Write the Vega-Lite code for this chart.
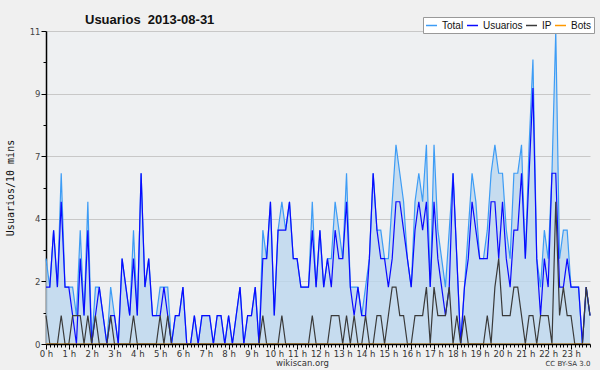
{
  "$schema": "https://vega.github.io/schema/vega-lite/v6.json",
  "width": 544,
  "height": 313,
  "autosize": {"type": "none"},
  "padding": {"left": 46, "top": 31, "right": 10, "bottom": 26},
  "background": "#f0f0f0",
  "title": {"text": "Usuarios \u00a02013-08-31", "anchor": "start", "frame": "group", "dx": 39, "dy": 21, "offset": 11, "font": "Liberation Sans", "fontSize": 13, "fontWeight": "bold", "color": "#111111"},
  "config": {"view": {"fill": "#eef0f2", "stroke": null}},
  "data": {"values": [
    {"m":0,"Total":3,"Usuarios":2,"IP":1,"Bots":0},
    {"m":10,"Total":2,"Usuarios":2,"IP":0,"Bots":0},
    {"m":20,"Total":4,"Usuarios":4,"IP":0,"Bots":0},
    {"m":30,"Total":2,"Usuarios":2,"IP":0,"Bots":0},
    {"m":40,"Total":6,"Usuarios":5,"IP":1,"Bots":0},
    {"m":50,"Total":2,"Usuarios":2,"IP":0,"Bots":0},
    {"m":60,"Total":2,"Usuarios":2,"IP":0,"Bots":0},
    {"m":70,"Total":2,"Usuarios":1,"IP":1,"Bots":0},
    {"m":80,"Total":1,"Usuarios":0,"IP":1,"Bots":0},
    {"m":90,"Total":4,"Usuarios":3,"IP":1,"Bots":0},
    {"m":100,"Total":1,"Usuarios":1,"IP":0,"Bots":0},
    {"m":110,"Total":5,"Usuarios":4,"IP":1,"Bots":0},
    {"m":120,"Total":0,"Usuarios":0,"IP":0,"Bots":0},
    {"m":130,"Total":2,"Usuarios":1,"IP":1,"Bots":0},
    {"m":140,"Total":2,"Usuarios":2,"IP":0,"Bots":0},
    {"m":150,"Total":1,"Usuarios":1,"IP":0,"Bots":0},
    {"m":160,"Total":0,"Usuarios":0,"IP":0,"Bots":0},
    {"m":170,"Total":2,"Usuarios":1,"IP":1,"Bots":0},
    {"m":180,"Total":1,"Usuarios":1,"IP":0,"Bots":0},
    {"m":190,"Total":0,"Usuarios":0,"IP":0,"Bots":0},
    {"m":200,"Total":3,"Usuarios":3,"IP":0,"Bots":0},
    {"m":210,"Total":2,"Usuarios":2,"IP":0,"Bots":0},
    {"m":220,"Total":1,"Usuarios":1,"IP":0,"Bots":0},
    {"m":230,"Total":4,"Usuarios":3,"IP":1,"Bots":0},
    {"m":240,"Total":1,"Usuarios":1,"IP":0,"Bots":0},
    {"m":250,"Total":6,"Usuarios":6,"IP":0,"Bots":0},
    {"m":260,"Total":2,"Usuarios":2,"IP":0,"Bots":0},
    {"m":270,"Total":3,"Usuarios":3,"IP":0,"Bots":0},
    {"m":280,"Total":1,"Usuarios":1,"IP":0,"Bots":0},
    {"m":290,"Total":1,"Usuarios":1,"IP":0,"Bots":0},
    {"m":300,"Total":2,"Usuarios":1,"IP":1,"Bots":0},
    {"m":310,"Total":2,"Usuarios":2,"IP":0,"Bots":0},
    {"m":320,"Total":2,"Usuarios":1,"IP":1,"Bots":0},
    {"m":330,"Total":0,"Usuarios":0,"IP":0,"Bots":0},
    {"m":340,"Total":1,"Usuarios":1,"IP":0,"Bots":0},
    {"m":350,"Total":1,"Usuarios":1,"IP":0,"Bots":0},
    {"m":360,"Total":2,"Usuarios":2,"IP":0,"Bots":0},
    {"m":370,"Total":0,"Usuarios":0,"IP":0,"Bots":0},
    {"m":380,"Total":0,"Usuarios":0,"IP":0,"Bots":0},
    {"m":390,"Total":1,"Usuarios":1,"IP":0,"Bots":0},
    {"m":400,"Total":0,"Usuarios":0,"IP":0,"Bots":0},
    {"m":410,"Total":1,"Usuarios":1,"IP":0,"Bots":0},
    {"m":420,"Total":1,"Usuarios":1,"IP":0,"Bots":0},
    {"m":430,"Total":1,"Usuarios":1,"IP":0,"Bots":0},
    {"m":440,"Total":0,"Usuarios":0,"IP":0,"Bots":0},
    {"m":450,"Total":1,"Usuarios":1,"IP":0,"Bots":0},
    {"m":460,"Total":1,"Usuarios":1,"IP":0,"Bots":0},
    {"m":470,"Total":0,"Usuarios":0,"IP":0,"Bots":0},
    {"m":480,"Total":1,"Usuarios":1,"IP":0,"Bots":0},
    {"m":490,"Total":0,"Usuarios":0,"IP":0,"Bots":0},
    {"m":500,"Total":1,"Usuarios":1,"IP":0,"Bots":0},
    {"m":510,"Total":2,"Usuarios":2,"IP":0,"Bots":0},
    {"m":520,"Total":0,"Usuarios":0,"IP":0,"Bots":0},
    {"m":530,"Total":1,"Usuarios":1,"IP":0,"Bots":0},
    {"m":540,"Total":1,"Usuarios":1,"IP":0,"Bots":0},
    {"m":550,"Total":2,"Usuarios":2,"IP":0,"Bots":0},
    {"m":560,"Total":0,"Usuarios":0,"IP":0,"Bots":0},
    {"m":570,"Total":4,"Usuarios":3,"IP":1,"Bots":0},
    {"m":580,"Total":3,"Usuarios":3,"IP":0,"Bots":0},
    {"m":590,"Total":5,"Usuarios":5,"IP":0,"Bots":0},
    {"m":600,"Total":1,"Usuarios":1,"IP":0,"Bots":0},
    {"m":610,"Total":4,"Usuarios":4,"IP":0,"Bots":0},
    {"m":620,"Total":5,"Usuarios":4,"IP":1,"Bots":0},
    {"m":630,"Total":4,"Usuarios":4,"IP":0,"Bots":0},
    {"m":640,"Total":5,"Usuarios":5,"IP":0,"Bots":0},
    {"m":650,"Total":3,"Usuarios":3,"IP":0,"Bots":0},
    {"m":660,"Total":3,"Usuarios":3,"IP":0,"Bots":0},
    {"m":670,"Total":2,"Usuarios":2,"IP":0,"Bots":0},
    {"m":680,"Total":2,"Usuarios":2,"IP":0,"Bots":0},
    {"m":690,"Total":2,"Usuarios":2,"IP":0,"Bots":0},
    {"m":700,"Total":5,"Usuarios":4,"IP":1,"Bots":0},
    {"m":710,"Total":2,"Usuarios":2,"IP":0,"Bots":0},
    {"m":720,"Total":4,"Usuarios":4,"IP":0,"Bots":0},
    {"m":730,"Total":2,"Usuarios":2,"IP":0,"Bots":0},
    {"m":740,"Total":3,"Usuarios":3,"IP":0,"Bots":0},
    {"m":750,"Total":3,"Usuarios":2,"IP":1,"Bots":0},
    {"m":760,"Total":5,"Usuarios":4,"IP":1,"Bots":0},
    {"m":770,"Total":4,"Usuarios":3,"IP":1,"Bots":0},
    {"m":780,"Total":3,"Usuarios":3,"IP":0,"Bots":0},
    {"m":790,"Total":6,"Usuarios":5,"IP":1,"Bots":0},
    {"m":800,"Total":2,"Usuarios":2,"IP":0,"Bots":0},
    {"m":810,"Total":2,"Usuarios":1,"IP":1,"Bots":0},
    {"m":820,"Total":2,"Usuarios":2,"IP":0,"Bots":0},
    {"m":830,"Total":1,"Usuarios":1,"IP":0,"Bots":0},
    {"m":840,"Total":2,"Usuarios":1,"IP":1,"Bots":0},
    {"m":850,"Total":3,"Usuarios":3,"IP":0,"Bots":0},
    {"m":860,"Total":6,"Usuarios":6,"IP":0,"Bots":0},
    {"m":870,"Total":4,"Usuarios":4,"IP":1,"Bots":0},
    {"m":880,"Total":4,"Usuarios":3,"IP":1,"Bots":0},
    {"m":890,"Total":3,"Usuarios":3,"IP":0,"Bots":0},
    {"m":900,"Total":3,"Usuarios":2,"IP":1,"Bots":0},
    {"m":910,"Total":5,"Usuarios":3,"IP":2,"Bots":0},
    {"m":920,"Total":7,"Usuarios":5,"IP":2,"Bots":0},
    {"m":930,"Total":6,"Usuarios":5,"IP":1,"Bots":0},
    {"m":940,"Total":5,"Usuarios":4,"IP":1,"Bots":0},
    {"m":950,"Total":3,"Usuarios":3,"IP":0,"Bots":0},
    {"m":960,"Total":2,"Usuarios":2,"IP":0,"Bots":0},
    {"m":970,"Total":5,"Usuarios":4,"IP":1,"Bots":0},
    {"m":980,"Total":6,"Usuarios":5,"IP":1,"Bots":0},
    {"m":990,"Total":5,"Usuarios":4,"IP":1,"Bots":0},
    {"m":1000,"Total":7,"Usuarios":5,"IP":2,"Bots":0},
    {"m":1010,"Total":2,"Usuarios":2,"IP":0,"Bots":0},
    {"m":1020,"Total":7,"Usuarios":5,"IP":2,"Bots":0},
    {"m":1030,"Total":4,"Usuarios":3,"IP":1,"Bots":0},
    {"m":1040,"Total":3,"Usuarios":2,"IP":1,"Bots":0},
    {"m":1050,"Total":2,"Usuarios":1,"IP":1,"Bots":0},
    {"m":1060,"Total":4,"Usuarios":2,"IP":2,"Bots":0},
    {"m":1070,"Total":6,"Usuarios":6,"IP":0,"Bots":0},
    {"m":1080,"Total":3,"Usuarios":3,"IP":1,"Bots":0},
    {"m":1090,"Total":0,"Usuarios":0,"IP":0,"Bots":0},
    {"m":1100,"Total":2,"Usuarios":2,"IP":1,"Bots":0},
    {"m":1110,"Total":4,"Usuarios":3,"IP":0,"Bots":0},
    {"m":1120,"Total":6,"Usuarios":5,"IP":0,"Bots":0},
    {"m":1130,"Total":5,"Usuarios":4,"IP":0,"Bots":0},
    {"m":1140,"Total":3,"Usuarios":3,"IP":0,"Bots":0},
    {"m":1150,"Total":3,"Usuarios":3,"IP":0,"Bots":0},
    {"m":1160,"Total":4,"Usuarios":3,"IP":1,"Bots":0},
    {"m":1170,"Total":6,"Usuarios":5,"IP":0,"Bots":0},
    {"m":1180,"Total":7,"Usuarios":5,"IP":2,"Bots":0},
    {"m":1190,"Total":6,"Usuarios":3,"IP":3,"Bots":0},
    {"m":1200,"Total":6,"Usuarios":5,"IP":1,"Bots":0},
    {"m":1210,"Total":4,"Usuarios":3,"IP":1,"Bots":0},
    {"m":1220,"Total":3,"Usuarios":2,"IP":1,"Bots":0},
    {"m":1230,"Total":6,"Usuarios":4,"IP":2,"Bots":0},
    {"m":1240,"Total":6,"Usuarios":4,"IP":2,"Bots":0},
    {"m":1250,"Total":7,"Usuarios":6,"IP":1,"Bots":0},
    {"m":1260,"Total":3,"Usuarios":3,"IP":0,"Bots":0},
    {"m":1270,"Total":7,"Usuarios":6,"IP":1,"Bots":0},
    {"m":1280,"Total":10,"Usuarios":9,"IP":1,"Bots":0},
    {"m":1290,"Total":3,"Usuarios":3,"IP":0,"Bots":0},
    {"m":1300,"Total":2,"Usuarios":1,"IP":1,"Bots":0},
    {"m":1310,"Total":4,"Usuarios":3,"IP":1,"Bots":0},
    {"m":1320,"Total":3,"Usuarios":2,"IP":1,"Bots":0},
    {"m":1330,"Total":6,"Usuarios":6,"IP":0,"Bots":0},
    {"m":1340,"Total":11,"Usuarios":6,"IP":5,"Bots":0},
    {"m":1350,"Total":3,"Usuarios":2,"IP":1,"Bots":0},
    {"m":1360,"Total":4,"Usuarios":2,"IP":2,"Bots":0},
    {"m":1370,"Total":4,"Usuarios":3,"IP":1,"Bots":0},
    {"m":1380,"Total":2,"Usuarios":2,"IP":1,"Bots":0},
    {"m":1390,"Total":2,"Usuarios":2,"IP":0,"Bots":0},
    {"m":1400,"Total":2,"Usuarios":2,"IP":0,"Bots":0},
    {"m":1410,"Total":0,"Usuarios":0,"IP":0,"Bots":0},
    {"m":1420,"Total":2,"Usuarios":2,"IP":2,"Bots":0},
    {"m":1430,"Total":1,"Usuarios":1,"IP":1,"Bots":0}
  ]},
  "layer": [
    {
      "mark": {"type": "area", "color": "#bcd7ee", "opacity": 0.8},
      "encoding": {
        "x": {"field": "m", "type": "quantitative", "scale": {"domain": [0, 1430], "nice": false, "zero": false},
          "axis": {"orient": "bottom", "values": [0,60,120,180,240,300,360,420,480,540,600,660,720,780,840,900,960,1020,1080,1140,1200,1260,1320,1380],
            "labelExpr": "datum.value/60 + ' h'", "grid": false, "tickSize": 5, "tickColor": "#000000", "domainColor": "#000000", "domainWidth": 1.5,
            "labelFont": "DejaVu Sans", "labelFontSize": 8.5, "labelColor": "#333333", "labelPadding": 0, "labelFlush": false, "labelOverlap": false,
            "title": "wikiscan.org", "titleX": 256, "titleY": 21, "titleBaseline": "alphabetic", "titleFont": "DejaVu Sans", "titleFontSize": 8.5, "titleFontWeight": "normal", "titleColor": "#333333", "zindex": 1}},
        "y": {"field": "Total", "type": "quantitative", "scale": {"domain": [0, 11], "nice": false},
          "axis": {"orient": "left", "values": [0, 2.2, 4.4, 6.6, 8.8, 11], "format": ".0f", "grid": true, "gridColor": "#c8c8c8", "tickSize": 5, "tickColor": "#000000",
            "domainColor": "#000000", "domainWidth": 1.5, "labelFont": "DejaVu Sans", "labelFontSize": 8.5, "labelColor": "#444444", "labelPadding": 1,
            "title": "Usuarios/10 mins", "titleFont": "DejaVu Sans Mono", "titleFontSize": 10, "titleFontWeight": "normal", "titleColor": "#111111", "titlePadding": 14}}
      }
    },
    {
      "transform": [{"fold": ["Total", "Usuarios", "IP", "Bots"], "as": ["serie", "valor"]}],
      "mark": {"type": "line", "strokeWidth": 1.2},
      "encoding": {
        "x": {"field": "m", "type": "quantitative",
          "axis": {"orient": "bottom", "tickCount": 143, "labels": false, "grid": false, "domain": false, "tickSize": 3, "tickColor": "#000000",
            "title": "CC BY-SA 3.0", "titleX": 544, "titleY": 21, "titleAlign": "right", "titleBaseline": "alphabetic", "titleFont": "DejaVu Sans", "titleFontSize": 7, "titleFontWeight": "normal", "titleColor": "#333333"}},
        "y": {"field": "valor", "type": "quantitative",
          "axis": {"orient": "left", "values": [1.1, 3.3, 5.5, 7.7, 9.9], "labels": false, "grid": false, "domain": false, "tickSize": 3, "tickColor": "#000000", "title": null}},
        "color": {"field": "serie", "type": "nominal", "sort": ["Total", "Usuarios", "IP", "Bots"],
          "scale": {"domain": ["Total", "Usuarios", "IP", "Bots"], "range": ["#3d9cf5", "#0a0aff", "#3a3a3a", "#ff9900"]},
          "legend": {"orient": "none", "legendX": 377, "legendY": -14, "direction": "horizontal", "gridAlign": "none", "title": null, "fillColor": "#ffffff", "strokeColor": "#999999", "padding": 2,
            "symbolType": "stroke", "symbolSize": 120, "symbolStrokeWidth": 1.5, "labelFont": "Liberation Sans", "labelFontSize": 10, "labelColor": "#111111", "labelOffset": 4, "columnPadding": 0}}
      }
    }
  ],
  "resolve": {"axis": {"x": "independent", "y": "independent"}}
}
